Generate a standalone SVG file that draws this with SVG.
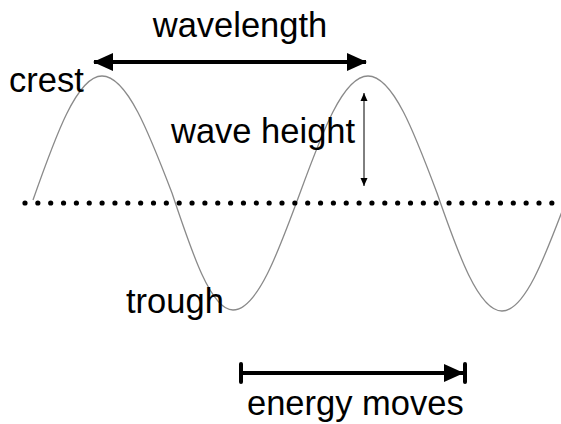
<svg xmlns="http://www.w3.org/2000/svg" width="561" height="424" viewBox="0 0 561 424">
<defs>
<style>
.lbl{font-family:"Liberation Sans",Arial,sans-serif;font-size:34.5px;fill:#000}
.wave{fill:none;stroke:#8a8a8a;stroke-width:1.3}
.thick{stroke:#000;stroke-width:4;fill:none}
.thin{stroke:#000;stroke-width:1;fill:none}
</style>
<marker id="bigHead" viewBox="0 0 20 20" refX="19" refY="10" markerWidth="20" markerHeight="20" markerUnits="userSpaceOnUse" orient="auto-start-reverse">
<path d="M0,1 L20,10 L0,19 Z" fill="#000"/>
</marker>
<marker id="smallHead" viewBox="0 0 8 8" refX="8" refY="4" markerWidth="8" markerHeight="8" markerUnits="userSpaceOnUse" orient="auto-start-reverse">
<path d="M0,0.5 L8,4 L0,7.5 Z" fill="#000"/>
</marker>
</defs>
<rect width="561" height="424" fill="#fff"/>
<g id="wave">
<path class="wave" d="M33,200 C55.5,136 77,76 102,76 C127,76 149,133 172,193 C192,253 211,310 233,310 C257,310 278,253 300,193 C322,133 343,76 368,76 C393,76 414.5,133 437,193 C458,253.5 478.5,311 502,311 C526,311 547,251 569,193"/>
</g>
<g id="still-water">
<line x1="25" y1="203" x2="553" y2="203" stroke="#000" stroke-width="5.2" stroke-linecap="round" stroke-dasharray="0 12.85"/>
</g>
<g id="connectors">
<line id="wavelength-arrow" class="thick" x1="94" y1="62" x2="366" y2="62" marker-start="url(#bigHead)" marker-end="url(#bigHead)"/>
<line id="height-arrow" class="thin" x1="364" y1="93" x2="364" y2="186" marker-start="url(#smallHead)" marker-end="url(#smallHead)"/>
<g id="energy-arrow">
<line class="thick" x1="241" y1="373" x2="463" y2="373" marker-end="url(#bigHead)"/>
<line x1="241" y1="364" x2="241" y2="382" stroke="#000" stroke-width="4" stroke-linecap="round"/>
<line x1="465" y1="364" x2="465" y2="382" stroke="#000" stroke-width="4" stroke-linecap="round"/>
</g>
</g>
<g id="labels">
<text class="lbl" x="240" y="37" text-anchor="middle">wavelength</text>
<text class="lbl" x="9" y="92">crest</text>
<text class="lbl" x="171" y="143">wave height</text>
<text class="lbl" x="126" y="313">trough</text>
<text class="lbl" x="247" y="415">energy moves</text>
</g>
</svg>
